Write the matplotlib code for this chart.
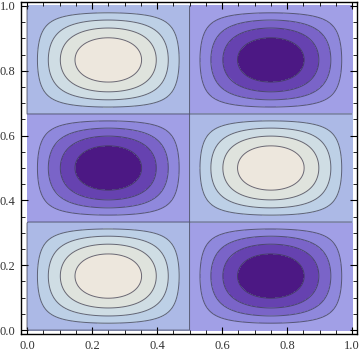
import numpy as np
import matplotlib
matplotlib.use("Agg")
import matplotlib.pyplot as plt
from matplotlib.ticker import MultipleLocator

# Function parameters: f(x, y) = sin(kx*pi*x) * sin(ky*pi*y)
kx = 2
ky = 3
levels = [-1.0, -0.8, -0.6, -0.4, -0.2, 0.0, 0.2, 0.4, 0.6, 0.8, 1.0]
band_colors = ["#4c1884", "#6642b0", "#7a64c8", "#8f88dc", "#a19fe6",
               "#acb9e6", "#bdd0e6", "#cfdde4", "#dfe3dd", "#ede7dd"]
tick_labels = ["0.0", "0.2", "0.4", "0.6", "0.8", "1.0"]
tick_vals = [0.0, 0.2, 0.4, 0.6, 0.8, 1.0]

x = np.linspace(0, 1, 301)
y = np.linspace(0, 1, 301)
X, Y = np.meshgrid(x, y)
Z = np.sin(kx * np.pi * X) * np.sin(ky * np.pi * Y)

fig = plt.figure(figsize=(3.6, 3.56), dpi=100)
ax = fig.add_axes([21/360, 22/356, 336/360, 332/356])
ax.contourf(X, Y, Z, levels=levels, colors=band_colors)
ax.contour(X, Y, Z, levels=levels[1:-1], colors="#3c3c50", linewidths=0.7,
           alpha=0.75, linestyles="solid")

ax.set_xlim(-0.0185, 1.015)
ax.set_ylim(-0.012, 1.012)
ax.set_xticks(tick_vals)
ax.set_xticklabels(tick_labels)
ax.set_yticks(tick_vals)
ax.set_yticklabels(tick_labels)
ax.xaxis.set_minor_locator(MultipleLocator(0.05))
ax.yaxis.set_minor_locator(MultipleLocator(0.05))
ax.tick_params(which="both", direction="in", top=True, right=True, color="black")
ax.tick_params(which="major", length=5, width=0.8, labelsize=9, pad=4)
ax.tick_params(which="minor", length=3, width=0.6)
for lab in ax.get_xticklabels() + ax.get_yticklabels():
    lab.set_family("Liberation Serif")
    lab.set_color("#333333")
for s in ax.spines.values():
    s.set_linewidth(1.0)

fig.savefig("out.png", dpi=100)
